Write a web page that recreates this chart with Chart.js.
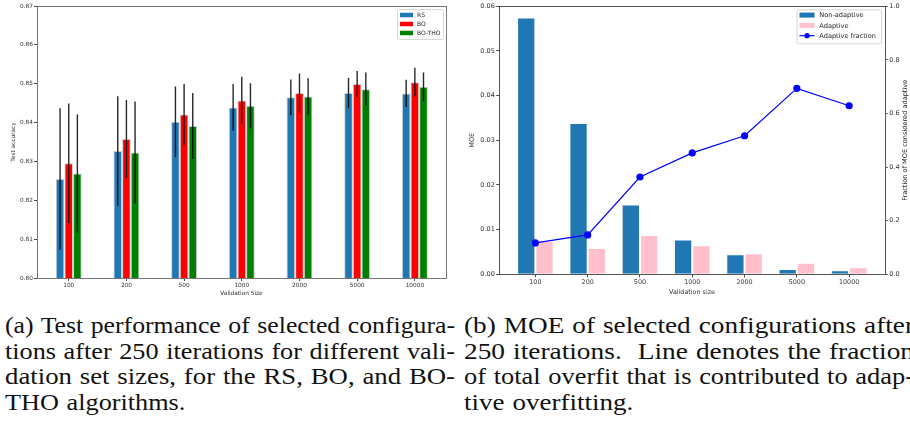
<!DOCTYPE html>
<html>
<head>
<meta charset="utf-8">
<script src="https://cdn.jsdelivr.net/npm/chart.js@4"></script>
<style>
  html, body { margin: 0; padding: 0; background: #fff; width: 910px; height: 433px; overflow: hidden; position: relative; }
  canvas { position: absolute; top: 0; }
  #acc { left: 0; }
  #moe { left: 455px; }
  .cap { position: absolute; font-family: "Liberation Serif", "Times New Roman", serif; font-size: 23.5px; color: #111; white-space: nowrap; }
  .cap div { height: 25.7px; line-height: 25.7px; }
  .cap span { display: inline-block; transform-origin: 0 50%; }
</style>
</head>
<body>
<canvas id="acc" width="455" height="300"></canvas>
<canvas id="moe" width="455" height="300"></canvas>
<div class="cap" id="capA" style="left:5px; top:313px;"></div>
<div class="cap" id="capB" style="left:464px; top:313px;"></div>
<script>
// Validation-set sizes shared by both panels
const sizes = ['100', '200', '500', '1000', '2000', '5000', '10000'];

// (a) test accuracy per method, with one standard deviation
const rsAcc  = [0.8255, 0.8327, 0.8402, 0.8439, 0.8465, 0.8476, 0.8475];
const rsErr  = [0.0182, 0.0141, 0.0091, 0.0060, 0.0046, 0.0039, 0.0035];
const boAcc  = [0.8295, 0.8358, 0.8421, 0.8457, 0.8476, 0.8499, 0.8504];
const boErr  = [0.0154, 0.0100, 0.0078, 0.0061, 0.0050, 0.0034, 0.0037];
const thoAcc = [0.8269, 0.8323, 0.8391, 0.8443, 0.8467, 0.8486, 0.8492];
const thoErr = [0.0152, 0.0131, 0.0085, 0.0058, 0.0047, 0.0043, 0.0037];
const accTicks = [0.80, 0.81, 0.82, 0.83, 0.84, 0.85, 0.86, 0.87];

// (b) MOE split into non-adaptive and adaptive parts, and the adaptive fraction
const nonAdaptive = [0.0575, 0.0339, 0.0156, 0.0078, 0.0045, 0.0012, 0.0009];
const adaptive    = [0.0075, 0.0059, 0.0088, 0.0065, 0.0047, 0.0026, 0.0016];
const fraction    = [0.117, 0.147, 0.363, 0.453, 0.517, 0.694, 0.629];
const moeTicks  = [0.00, 0.01, 0.02, 0.03, 0.04, 0.05, 0.06];
const fracTicks = [0.0, 0.2, 0.4, 0.6, 0.8, 1.0];

// Captions
const captionA = [
  '(a) Test performance of selected configura-',
  'tions after 250 iterations for different vali-',
  'dation set sizes, for the RS, BO, and BO-',
  'THO algorithms.'
];
const captionB = [
  '(b) MOE of selected configurations after',
  '250 iterations.\u00a0 Line denotes the fraction',
  'of total overfit that is contributed to adap-',
  'tive overfitting.'
];

const FONT = 'DejaVu Sans';
const pts = vals => vals.map((v, i) => ({ x: i, y: v }));
const indexTicks = s => { s.ticks = sizes.map((_, i) => ({ value: i })); };

// box around the plotting area (all four spines)
const frame = {
  id: 'frame',
  afterDatasetsDraw(chart, args, opts) {
    const { ctx, chartArea: a } = chart;
    ctx.save();
    ctx.strokeStyle = opts.color || '#666';
    ctx.lineWidth = 1;
    ctx.strokeRect(Math.round(a.left) + 0.5, Math.round(a.top) + 0.5,
                   Math.round(a.right) - Math.round(a.left), Math.round(a.bottom) - Math.round(a.top));
    ctx.restore();
  }
};

// vertical error bars centred on each bar
const errorBars = {
  id: 'errorBars',
  afterDatasetsDraw(chart) {
    const { ctx } = chart;
    const yScale = chart.scales.y;
    chart.data.datasets.forEach((ds, di) => {
      if (!ds.errors) return;
      const meta = chart.getDatasetMeta(di);
      meta.data.forEach((bar, i) => {
        const v = ds.data[i].y, e = ds.errors[i];
        ctx.save();
        ctx.strokeStyle = 'rgba(0,0,0,0.85)';
        ctx.lineWidth = 1.4;
        ctx.beginPath();
        ctx.moveTo(bar.x, yScale.getPixelForValue(v + e));
        ctx.lineTo(bar.x, yScale.getPixelForValue(v - e));
        ctx.stroke();
        ctx.restore();
      });
    });
  }
};

// legend box drawn inside the axes, top right
const legendBox = {
  id: 'legendBox',
  afterDraw(chart, args, o) {
    const { ctx } = chart;
    ctx.save();
    ctx.fillStyle = 'rgba(255,255,255,0.85)';
    ctx.strokeStyle = '#d6d6d6';
    ctx.lineWidth = 1;
    ctx.beginPath();
    ctx.roundRect(o.x + 0.5, o.y + 0.5, o.w, o.h, 2);
    ctx.fill();
    ctx.stroke();
    ctx.font = `${o.size}px "${FONT}"`;
    ctx.textBaseline = 'middle';
    o.order.forEach((di, k) => {
      const ds = chart.data.datasets[di];
      const cy = o.y + o.first + k * o.step;
      if (ds.type === 'line') {
        ctx.strokeStyle = ds.borderColor;
        ctx.lineWidth = 1.2;
        ctx.beginPath();
        ctx.moveTo(o.sx, cy);
        ctx.lineTo(o.sx + o.sw, cy);
        ctx.stroke();
        ctx.fillStyle = ds.pointBackgroundColor;
        ctx.beginPath();
        ctx.arc(o.sx + o.sw / 2, cy, 2.6, 0, Math.PI * 2);
        ctx.fill();
      } else {
        ctx.fillStyle = ds.backgroundColor;
        ctx.fillRect(o.sx, cy - o.sh / 2, o.sw, o.sh);
      }
      ctx.fillStyle = '#222';
      ctx.fillText(ds.label, o.tx, cy + 0.5);
    });
    ctx.restore();
  }
};

// right-hand axis title, reading bottom to top
const rightTitle = {
  id: 'rightTitle',
  afterDraw(chart, args, o) {
    const { ctx, chartArea: a } = chart;
    ctx.save();
    ctx.translate(o.x, (a.top + a.bottom) / 2);
    ctx.rotate(-Math.PI / 2);
    ctx.font = `${o.size}px "${FONT}"`;
    ctx.fillStyle = '#222';
    ctx.textAlign = 'center';
    ctx.textBaseline = 'middle';
    ctx.fillText(o.text, 0, 0);
    ctx.restore();
  }
};

const tickGrid = { drawOnChartArea: false, drawTicks: true, tickLength: 3, color: '#444', offset: false };

// ---------- (a) test accuracy ----------
new Chart(document.getElementById('acc'), {
  type: 'bar',
  data: {
    datasets: [
      { label: 'RS', data: pts(rsAcc), errors: rsErr, backgroundColor: '#1f77b4', borderColor: '#cfcfcf', borderWidth: 1 },
      { label: 'BO', data: pts(boAcc), errors: boErr, backgroundColor: '#ff0000', borderColor: '#cfcfcf', borderWidth: 1 },
      { label: 'BO-THO', data: pts(thoAcc), errors: thoErr, backgroundColor: '#008000', borderColor: '#cfcfcf', borderWidth: 1 }
    ]
  },
  options: {
    responsive: false, animation: false, events: [],
    layout: { padding: { left: 0, right: 9, top: 6, bottom: 0 } },
    datasets: { bar: { categoryPercentage: 0.45, barPercentage: 1, borderSkipped: 'start' } },
    plugins: {
      legend: { display: false }, tooltip: { enabled: false },
      frame: { color: '#777' },
      legendBox: { x: 397, y: 9, w: 46, h: 30, first: 6, step: 9, sx: 400, sw: 13, sh: 4.5, tx: 417, size: 6, order: [0, 1, 2] }
    },
    scales: {
      x: {
        type: 'linear', min: -0.55, max: 6.54, offset: false,
        afterBuildTicks: indexTicks,
        afterFit: s => { s.height = 22; },
        grid: tickGrid, border: { display: false },
        ticks: { callback: v => sizes[v], font: { family: FONT, size: 5.8 }, color: '#333', padding: 1.5, maxRotation: 0, autoSkip: false },
        title: { display: true, text: 'Validation Size', font: { family: FONT, size: 5.8 }, color: '#333', padding: { top: 0, bottom: 3 } }
      },
      y: {
        min: 0.80, max: 0.87,
        afterBuildTicks: s => { s.ticks = accTicks.map(v => ({ value: v })); },
        afterFit: s => { s.width = 37; },
        grid: tickGrid, border: { display: false },
        ticks: { callback: v => v.toFixed(2), font: { family: FONT, size: 5.8 }, color: '#333', padding: 1 },
        title: { display: true, text: 'Test accuracy', font: { family: FONT, size: 5.8 }, color: '#333', padding: { top: 10, bottom: 0 } }
      }
    }
  },
  plugins: [frame, errorBars, legendBox]
});

// ---------- (b) MOE ----------
new Chart(document.getElementById('moe'), {
  type: 'bar',
  data: {
    datasets: [
      { type: 'line', label: 'Adaptive fraction', data: pts(fraction), yAxisID: 'y1', order: 0,
        borderColor: '#0000ff', backgroundColor: '#0000ff', pointBackgroundColor: '#0000ff', pointBorderColor: '#0000ff',
        borderWidth: 1.2, pointRadius: 3, tension: 0 },
      { label: 'Non-adaptive', data: pts(nonAdaptive), yAxisID: 'y', order: 1,
        backgroundColor: '#1f77b4', borderColor: 'rgba(255,255,255,0.55)', borderWidth: 1 },
      { label: 'Adaptive', data: pts(adaptive), yAxisID: 'y', order: 1,
        backgroundColor: '#ffc0cb', borderColor: 'rgba(255,255,255,0.55)', borderWidth: 1 }
    ]
  },
  options: {
    responsive: false, animation: false, events: [],
    layout: { padding: { left: 0, right: 0, top: 6.3, bottom: 0 } },
    datasets: { bar: { categoryPercentage: 0.7, barPercentage: 1, borderSkipped: 'start' } },
    plugins: {
      legend: { display: false }, tooltip: { enabled: false },
      frame: { color: '#555' },
      legendBox: { x: 341.5, y: 9.3, w: 84.5, h: 34, first: 5.8, step: 10.3, sx: 344.5, sw: 15, sh: 5, tx: 364.3, size: 6.6, order: [1, 2, 0] },
      rightTitle: { x: 450.7, size: 6.6, text: 'Fraction of MOE considered adaptive' }
    },
    scales: {
      x: {
        type: 'linear', min: -0.69, max: 6.68, offset: false,
        afterBuildTicks: indexTicks,
        afterFit: s => { s.height = 25.7; },
        grid: tickGrid, border: { display: false },
        ticks: { callback: v => sizes[v], font: { family: FONT, size: 6.4 }, color: '#333', padding: 1.5, maxRotation: 0, autoSkip: false },
        title: { display: true, text: 'Validation size', font: { family: FONT, size: 6.4 }, color: '#333', padding: { top: 0, bottom: 3.8 } }
      },
      y: {
        position: 'left', min: 0, max: 0.06,
        afterBuildTicks: s => { s.ticks = moeTicks.map(v => ({ value: v })); },
        afterFit: s => { s.width = 44.3; },
        grid: tickGrid, border: { display: false },
        ticks: { callback: v => v.toFixed(2), font: { family: FONT, size: 6.5 }, color: '#333', padding: 1.5 },
        title: { display: true, text: 'MOE', font: { family: FONT, size: 6.5 }, color: '#333', padding: { top: 13.4, bottom: 0 } }
      },
      y1: {
        position: 'right', min: 0, max: 1.0,
        afterBuildTicks: s => { s.ticks = fracTicks.map(v => ({ value: v })); },
        afterFit: s => { s.width = 25.3; },
        grid: tickGrid, border: { display: false },
        ticks: { callback: v => v.toFixed(1), font: { family: FONT, size: 6.5 }, color: '#333', padding: 1.5 }
      }
    }
  },
  plugins: [frame, legendBox, rightTitle]
});

// ---------- captions, justified to the column width ----------
// a touch of extra word spacing, then each line is widened horizontally to the column
function fillCaption(id, lines, width) {
  const box = document.getElementById(id);
  const spans = lines.map(text => {
    const row = document.createElement('div');
    const span = document.createElement('span');
    span.textContent = text;
    span.style.wordSpacing = '1px';
    row.appendChild(span);
    box.appendChild(row);
    return span;
  });
  const factors = [];
  spans.forEach((span, k) => {
    if (k === spans.length - 1) return;
    const f = width / span.getBoundingClientRect().width;
    factors.push(f);
    span.style.transform = `scaleX(${f})`;
  });
  const avg = factors.reduce((a, b) => a + b, 0) / factors.length;
  spans[spans.length - 1].style.transform = `scaleX(${avg})`;
}
fillCaption('capA', captionA, 450);
fillCaption('capB', captionB, 450);
</script>
</body>
</html>
